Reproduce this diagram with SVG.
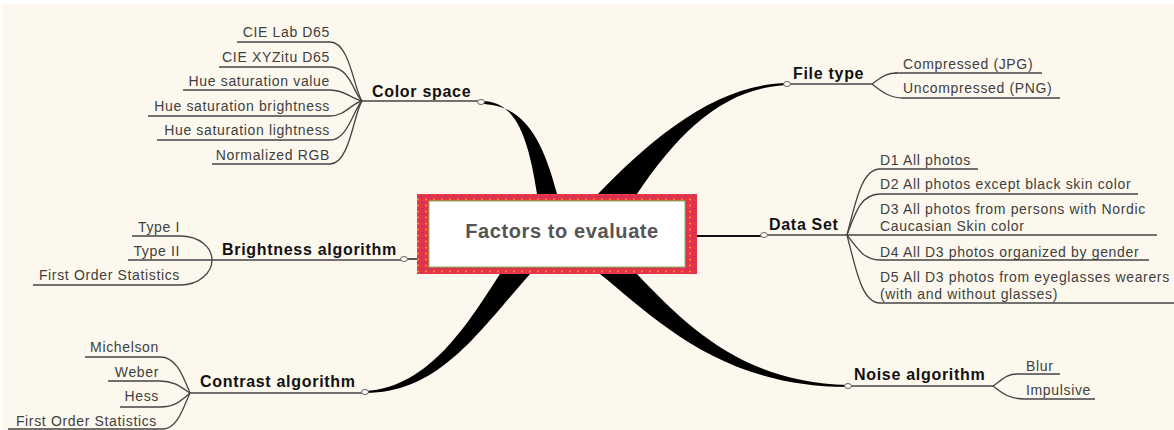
<svg xmlns="http://www.w3.org/2000/svg" width="1174" height="430" viewBox="0 0 1174 430">
<defs>
<style>
.t{font-family:"Liberation Sans",Arial,sans-serif;font-size:14px;fill:#404040;letter-spacing:0.65px}
.b{font-family:"Liberation Sans",Arial,sans-serif;font-size:16px;font-weight:bold;fill:#111;letter-spacing:0.7px}
.c{font-family:"Liberation Sans",Arial,sans-serif;font-size:20px;font-weight:bold;fill:#555;letter-spacing:0.6px}
.ul{stroke:#444;stroke-width:1.3;fill:none}
.tk{fill:#000}
.dot{fill:#fdf8ee;stroke:#666;stroke-width:1}
</style>
<pattern id="trim" width="8" height="6" patternUnits="userSpaceOnUse">
<rect width="8" height="6" fill="#e8324a"/>
<circle cx="2" cy="1.5" r="0.9" fill="#f5a623"/>
<circle cx="6" cy="4.5" r="0.7" fill="#4a4a9a"/>
</pattern>
</defs>
<rect width="1174" height="430" fill="#ffffff"/>
<rect x="2" y="4" width="1172" height="426" fill="#fdf8ee"/>

<g id="connectors">
<path class="tk" d="M480,101 C512,100 527,128 537,194 L557,194 C541,132 520,104 480,104 Z"/>
<path class="tk" d="M598,194 C650,140 715,84 787,83 L787,85 C725,88 680,130 637,194 Z"/>
<path class="tk" d="M500,274 C470,320 430,388 365,391 L366,393 C440,393 480,330 530,274 Z"/>
<path class="tk" d="M600,274 C655,318 720,387 848,387 L848,385 C745,382 690,330 637,274 Z"/>
<path d="M404,259 H417" stroke="#222" stroke-width="1.5" fill="none"/>
<path d="M697,236 H764" stroke="#111" stroke-width="2" fill="none"/>
<path class="ul" d="M330,42 C350,42 354,90 362,101"/>
<path class="ul" d="M330,67 C350,67 354,94 362,101"/>
<path class="ul" d="M330,90 C345,90 352,99 362,101"/>
<path class="ul" d="M330,116 C345,116 352,103 362,101"/>
<path class="ul" d="M330,140 C348,140 354,108 362,101"/>
<path class="ul" d="M330,164 C350,164 354,112 362,101"/>
<path class="ul" d="M872,84 C882,77 886,73 897,73"/>
<path class="ul" d="M872,84 C882,92 890,98 903,98"/>
<path class="ul" d="M847,235 C856,200 862,169 880,169"/>
<path class="ul" d="M847,235 C856,210 862,194 880,194"/>
<path class="ul" d="M847,235 C858,250 865,260 880,260"/>
<path class="ul" d="M847,235 C856,270 862,303 880,303"/>
<path class="ul" d="M180,236 C200,236 212,248 212,260"/>
<path class="ul" d="M180,285 C200,285 212,272 212,260"/>
<path class="ul" d="M160,357 C178,357 184,380 190,393"/>
<path class="ul" d="M160,381 C175,381 182,388 190,393"/>
<path class="ul" d="M160,407 C175,407 182,400 190,393"/>
<path class="ul" d="M163,429 C178,429 184,405 190,393"/>
<path class="ul" d="M993,386 C1003,379 1007,374 1017,374"/>
<path class="ul" d="M993,386 C1003,394 1010,399 1025,399"/>
</g>

<g id="central">
<rect x="417" y="194" width="280" height="80" fill="url(#trim)"/>
<rect x="429" y="201" width="256" height="66" fill="#ffffff" stroke="#7cc35c" stroke-width="1"/>
<text class="c" x="562" y="238" text-anchor="middle">Factors to evaluate</text>
</g>

<g id="color-space">
<path class="ul" d="M362,101 H478"/>
<ellipse class="dot" cx="481" cy="102" rx="3.5" ry="2.5"/>
<text class="b" x="372" y="97">Color space</text>
</g>
<g id="cs-lab"><path class="ul" d="M237,42 H330"/><text class="t" x="330" y="37" text-anchor="end">CIE Lab D65</text></g>
<g id="cs-xyz"><path class="ul" d="M219,67 H330"/><text class="t" x="330" y="62" text-anchor="end">CIE XYZitu D65</text></g>
<g id="cs-hsv"><path class="ul" d="M183,90 H330"/><text class="t" x="330" y="86" text-anchor="end">Hue saturation value</text></g>
<g id="cs-hsb"><path class="ul" d="M148,116 H330"/><text class="t" x="330" y="111" text-anchor="end">Hue saturation brightness</text></g>
<g id="cs-hsl"><path class="ul" d="M157,140 H330"/><text class="t" x="330" y="135" text-anchor="end">Hue saturation lightness</text></g>
<g id="cs-rgb"><path class="ul" d="M212,164 H330"/><text class="t" x="330" y="160" text-anchor="end">Normalized RGB</text></g>

<g id="file-type">
<path class="ul" d="M790,84 H872"/>
<ellipse class="dot" cx="787" cy="84" rx="3.5" ry="2.5"/>
<text class="b" x="793" y="79">File type</text>
</g>
<g id="ft-jpg"><path class="ul" d="M895,73 H1042"/><text class="t" x="903" y="69">Compressed (JPG)</text></g>
<g id="ft-png"><path class="ul" d="M903,98 H1060"/><text class="t" x="903" y="93">Uncompressed (PNG)</text></g>

<g id="data-set">
<path class="ul" d="M767,235 H847"/>
<ellipse class="dot" cx="764" cy="235" rx="3.5" ry="2.5"/>
<text class="b" x="769" y="230">Data Set</text>
</g>
<g id="ds-d1"><path class="ul" d="M880,169 H978"/><text class="t" x="880" y="165">D1 All photos</text></g>
<g id="ds-d2"><path class="ul" d="M880,194 H1138"/><text class="t" x="880" y="189">D2 All photos except black skin color</text></g>
<g id="ds-d3"><path class="ul" d="M847,235 H1157"/><text class="t" x="880" y="214">D3 All photos from persons with Nordic</text><text class="t" x="880" y="231">Caucasian Skin color</text></g>
<g id="ds-d4"><path class="ul" d="M880,260 H1149"/><text class="t" x="880" y="257">D4 All D3 photos organized by gender</text></g>
<g id="ds-d5"><path class="ul" d="M880,303 H1174"/><text class="t" x="880" y="282">D5 All D3 photos from eyeglasses wearers</text><text class="t" x="880" y="299">(with and without glasses)</text></g>

<g id="brightness">
<path class="ul" d="M212,260 H401"/>
<ellipse class="dot" cx="404" cy="259" rx="3.5" ry="2.5"/>
<text class="b" x="222" y="255">Brightness algorithm</text>
</g>
<g id="br-type1"><path class="ul" d="M132,236 H180"/><text class="t" x="180" y="232" text-anchor="end">Type I</text></g>
<g id="br-type2"><path class="ul" d="M128,260 H212"/><text class="t" x="180" y="256" text-anchor="end">Type II</text></g>
<g id="br-fos"><path class="ul" d="M33,285 H180"/><text class="t" x="180" y="280" text-anchor="end">First Order Statistics</text></g>

<g id="contrast">
<path class="ul" d="M190,393 H362"/>
<ellipse class="dot" cx="365" cy="392" rx="3.5" ry="2.5"/>
<text class="b" x="200" y="387">Contrast algorithm</text>
</g>
<g id="ct-michelson"><path class="ul" d="M85,357 H160"/><text class="t" x="159" y="352" text-anchor="end">Michelson</text></g>
<g id="ct-weber"><path class="ul" d="M108,381 H160"/><text class="t" x="159" y="377" text-anchor="end">Weber</text></g>
<g id="ct-hess"><path class="ul" d="M120,407 H160"/><text class="t" x="159" y="401" text-anchor="end">Hess</text></g>
<g id="ct-fos"><path class="ul" d="M8,429 H163"/><text class="t" x="157" y="426" text-anchor="end">First Order Statistics</text></g>

<g id="noise">
<path class="ul" d="M851,386 H993"/>
<ellipse class="dot" cx="848" cy="386" rx="3.5" ry="2.5"/>
<text class="b" x="854" y="380">Noise algorithm</text>
</g>
<g id="ns-blur"><path class="ul" d="M1017,374 H1060"/><text class="t" x="1026" y="371">Blur</text></g>
<g id="ns-imp"><path class="ul" d="M1025,399 H1095"/><text class="t" x="1026" y="395">Impulsive</text></g>
</svg>
